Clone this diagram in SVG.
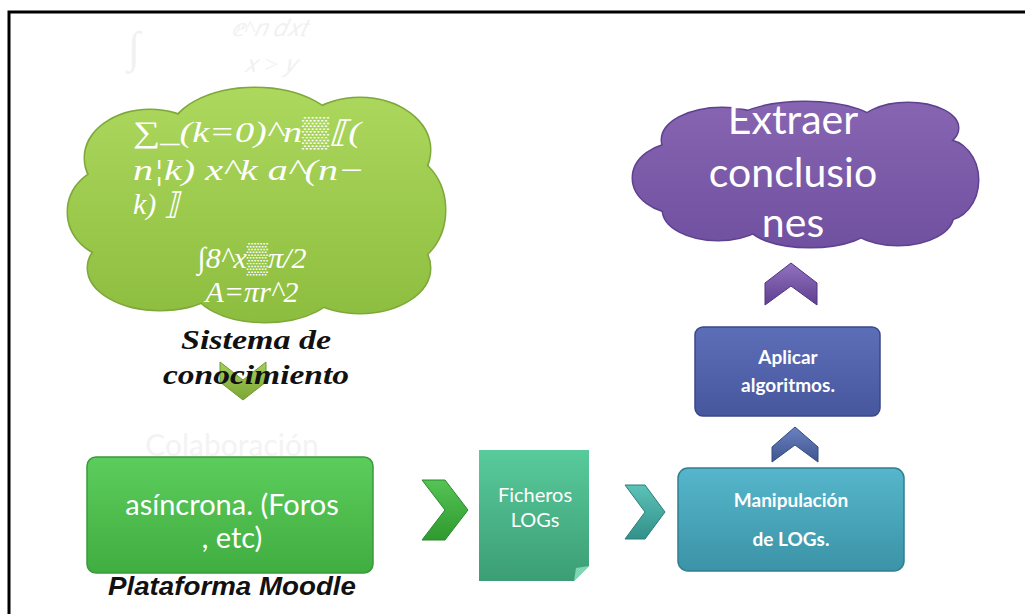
<svg xmlns="http://www.w3.org/2000/svg" width="1025" height="614" viewBox="0 0 1025 614">
<style>
.wt{fill:#ffffff;font-family:Lato,"Liberation Sans",sans-serif;text-anchor:middle}
.math{fill:#ffffff;font-family:"Liberation Serif","DejaVu Serif",serif;font-style:italic}
.lbl{fill:#111;font-family:"Liberation Serif",serif;font-weight:bold;font-style:italic;text-anchor:middle}
.ghost{fill:#f1f1f1;font-family:"Liberation Serif",serif;font-style:italic}
.cloudOut{stroke-width:3}
</style>
<defs>
<linearGradient id="gCloud" x1="0" y1="88" x2="0" y2="322" gradientUnits="userSpaceOnUse"><stop offset="0" stop-color="#acd85e"/><stop offset="1" stop-color="#8dbd3e"/></linearGradient>
<linearGradient id="pCloud" x1="0" y1="100" x2="0" y2="247" gradientUnits="userSpaceOnUse"><stop offset="0" stop-color="#8765b2"/><stop offset="1" stop-color="#7050a0"/></linearGradient>
<linearGradient id="gBox" x1="0" y1="0" x2="0" y2="1"><stop offset="0" stop-color="#5ccd5c"/><stop offset="1" stop-color="#40ad40"/></linearGradient>
<linearGradient id="doc" x1="0" y1="0" x2="0" y2="1"><stop offset="0" stop-color="#58ca9b"/><stop offset="1" stop-color="#3c9e74"/></linearGradient>
<linearGradient id="tBox" x1="0" y1="0" x2="0" y2="1"><stop offset="0" stop-color="#56b6cb"/><stop offset="1" stop-color="#3b93a7"/></linearGradient>
<linearGradient id="bBox" x1="0" y1="0" x2="0" y2="1"><stop offset="0" stop-color="#5d6eb8"/><stop offset="1" stop-color="#47579e"/></linearGradient>
<linearGradient id="chG" x1="0" y1="0" x2="0" y2="1"><stop offset="0" stop-color="#a6cf5a"/><stop offset="1" stop-color="#7ca635"/></linearGradient>
<linearGradient id="chG2" x1="0" y1="0" x2="0" y2="1"><stop offset="0" stop-color="#55c355"/><stop offset="1" stop-color="#2f9a2f"/></linearGradient>
<linearGradient id="chT" x1="0" y1="0" x2="0" y2="1"><stop offset="0" stop-color="#5cc2b8"/><stop offset="1" stop-color="#32918a"/></linearGradient>
<linearGradient id="chB" x1="0" y1="0" x2="0" y2="1"><stop offset="0" stop-color="#6a82c0"/><stop offset="1" stop-color="#3f5590"/></linearGradient>
<linearGradient id="chP" x1="0" y1="0" x2="0" y2="1"><stop offset="0" stop-color="#9272c0"/><stop offset="1" stop-color="#5e4090"/></linearGradient>
</defs>

<rect x="0" y="0" width="1025" height="614" fill="#ffffff"/>
<path d="M9,614 V12 H1025" fill="none" stroke="#000" stroke-width="3"/>

<g id="ghost-text">
<text class="ghost" x="128" y="62" font-size="44">∫</text>
<text class="ghost" x="232" y="36" font-size="24">ⅇ^𝑛 𝑑𝑥𝑡</text>
<text class="ghost" x="244" y="72" font-size="24">𝑥 &gt; 𝑦</text>
<text x="232" y="456" font-size="30" fill="#f3f3f3" font-family="Lato,'Liberation Sans',sans-serif" text-anchor="middle">Colaboración</text>
</g>

<g id="cloud-knowledge">
<g fill="url(#gCloud)" stroke="#7fa83a" class="cloudOut">
<ellipse cx="255" cy="135" rx="85" ry="47"/>
<ellipse cx="360" cy="150" rx="70" ry="52"/>
<ellipse cx="400" cy="210" rx="45" ry="55"/>
<ellipse cx="360" cy="268" rx="70" ry="45"/>
<ellipse cx="265" cy="285" rx="72" ry="37"/>
<ellipse cx="160" cy="268" rx="72" ry="42"/>
<ellipse cx="115" cy="212" rx="47" ry="45"/>
<ellipse cx="150" cy="158" rx="65" ry="48"/>
</g>
<g fill="url(#gCloud)">
<ellipse cx="255" cy="135" rx="85" ry="47"/>
<ellipse cx="360" cy="150" rx="70" ry="52"/>
<ellipse cx="400" cy="210" rx="45" ry="55"/>
<ellipse cx="360" cy="268" rx="70" ry="45"/>
<ellipse cx="265" cy="285" rx="72" ry="37"/>
<ellipse cx="160" cy="268" rx="72" ry="42"/>
<ellipse cx="115" cy="212" rx="47" ry="45"/>
<ellipse cx="150" cy="158" rx="65" ry="48"/>
<ellipse cx="258" cy="210" rx="150" ry="95"/>
</g>
<text class="math" x="133" y="142" font-size="30" textLength="228" lengthAdjust="spacingAndGlyphs">∑_(k=0)^n▒⟦(</text>
<text class="math" x="133" y="180" font-size="30" textLength="232" lengthAdjust="spacingAndGlyphs">n¦k) x^k a^(n−</text>
<text class="math" x="133" y="214" font-size="30">k) ⟧</text>
<text class="math" x="252" y="268" font-size="30" text-anchor="middle">∫8^x▒π/2</text>
<text class="math" x="252" y="302" font-size="30" text-anchor="middle">A=πr^2</text>
</g>

<g id="box-moodle">
<rect x="87" y="457" width="286" height="116" rx="9" fill="url(#gBox)" stroke="#3a9a3a" stroke-width="1.5"/>
<text class="wt" x="232" y="515" font-size="29">asíncrona. (Foros</text>
<text class="wt" x="232" y="548" font-size="29">, etc)</text>
<text x="232" y="595" font-size="25" fill="#111" font-family="'Liberation Sans',sans-serif" font-weight="bold" font-style="italic" text-anchor="middle" textLength="248" lengthAdjust="spacingAndGlyphs">Plataforma Moodle</text>
</g>

<g id="doc-logs">
<path d="M479,450 H589 V566 L574,581 H479 Z" fill="url(#doc)"/>
<path d="M589,566 L574,581 L576,568 Z" fill="#7dd7b2"/>
<text class="wt" x="535" y="502" font-size="20">Ficheros</text>
<text class="wt" x="535" y="527" font-size="20">LOGs</text>
</g>

<g id="box-manipulacion">
<rect x="678" y="468" width="226" height="103" rx="10" fill="url(#tBox)" stroke="#2f7f90" stroke-width="1.5"/>
<text class="wt" x="791" y="507" font-size="19" font-weight="bold">Manipulación</text>
<text class="wt" x="791" y="546" font-size="19" font-weight="bold">de LOGs.</text>
</g>

<g id="box-aplicar">
<rect x="695" y="327" width="185" height="89" rx="8" fill="url(#bBox)" stroke="#3a4888" stroke-width="1.5"/>
<text class="wt" x="788" y="364" font-size="19" font-weight="bold">Aplicar</text>
<text class="wt" x="788" y="392" font-size="19" font-weight="bold">algoritmos.</text>
</g>

<g id="cloud-conclusiones">
<g fill="url(#pCloud)" stroke="#5e4290" class="cloudOut">
<ellipse cx="680" cy="178" rx="47" ry="35"/>
<ellipse cx="722" cy="140" rx="60" ry="32"/>
<ellipse cx="805" cy="128" rx="75" ry="26"/>
<ellipse cx="908" cy="128" rx="50" ry="25"/>
<ellipse cx="945" cy="180" rx="33" ry="40"/>
<ellipse cx="898" cy="215" rx="55" ry="30"/>
<ellipse cx="810" cy="224" rx="62" ry="23"/>
<ellipse cx="718" cy="210" rx="55" ry="30"/>
</g>
<g fill="url(#pCloud)">
<ellipse cx="680" cy="178" rx="47" ry="35"/>
<ellipse cx="722" cy="140" rx="60" ry="32"/>
<ellipse cx="805" cy="128" rx="75" ry="26"/>
<ellipse cx="908" cy="128" rx="50" ry="25"/>
<ellipse cx="945" cy="180" rx="33" ry="40"/>
<ellipse cx="898" cy="215" rx="55" ry="30"/>
<ellipse cx="810" cy="224" rx="62" ry="23"/>
<ellipse cx="718" cy="210" rx="55" ry="30"/>
<ellipse cx="808" cy="176" rx="140" ry="58"/>
</g>
<text class="wt" x="793" y="134" font-size="41">Extraer</text>
<text class="wt" x="793" y="187" font-size="41">conclusio</text>
<text class="wt" x="793" y="237" font-size="41">nes</text>
</g>

<g id="connectors">
<polygon points="220,362 243,380 266,362 266,382 243,400 220,382" fill="url(#chG)" stroke="#6f9a2e" stroke-width="1"/>
<polygon points="422,480 445,480 468,510 445,540 422,540 445,510" fill="url(#chG2)" stroke="#2a8a2a" stroke-width="1"/>
<polygon points="625,485 645,485 665,512 645,539 625,539 645,512" fill="url(#chT)" stroke="#2a7f78" stroke-width="1"/>
<polygon points="772,447 795,427 818,447 818,462 795,445 772,462" fill="url(#chB)" stroke="#354a80" stroke-width="1"/>
<polygon points="765,283 791,263 817,283 817,305 791,286 765,305" fill="url(#chP)" stroke="#503480" stroke-width="1"/>
</g>

<g id="label-knowledge">
<text class="lbl" x="256" y="349" font-size="27" textLength="150" lengthAdjust="spacingAndGlyphs">Sistema de</text>
<text class="lbl" x="256" y="384" font-size="27" textLength="186" lengthAdjust="spacingAndGlyphs">conocimiento</text>
</g>
</svg>
